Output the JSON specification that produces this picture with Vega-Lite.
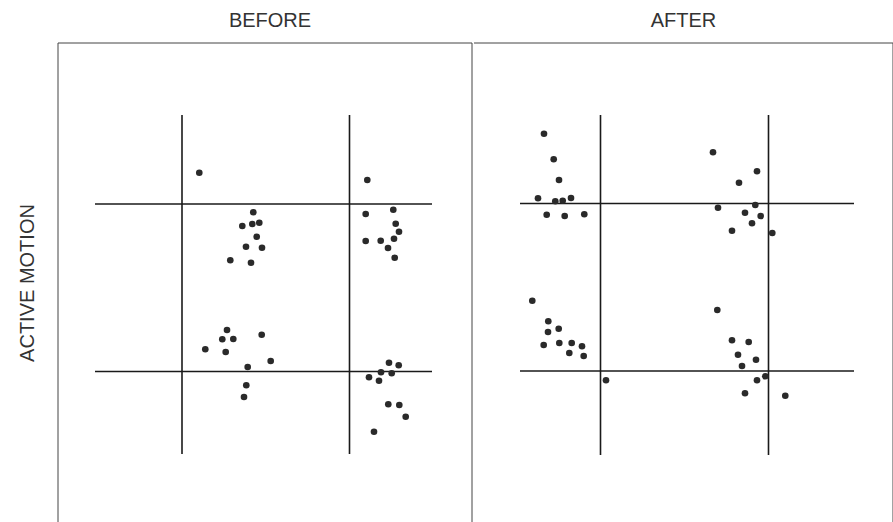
{
  "$schema": "https://vega.github.io/schema/vega-lite/v6.json",
  "padding": {"left": 17, "top": 10, "right": 0, "bottom": 0},
  "autosize": {"type": "pad"},
  "spacing": 0,
  "background": "white",
  "config": {"view": {"stroke": null}, "font": "Liberation Sans"},
  "datasets": {
    "borders": [
      {"panel": "BEFORE", "x": 0, "x2": 0, "y": 0, "y2": 479},
      {"panel": "BEFORE", "x": 0, "x2": 414, "y": 479, "y2": 479},
      {"panel": "BEFORE", "x": 414, "x2": 414, "y": 0, "y2": 479},
      {"panel": "AFTER", "x": 0, "x2": 419, "y": 479, "y2": 479},
      {"panel": "AFTER", "x": 419, "x2": 419, "y": 0, "y2": 479}
    ],
    "crosses": [
      {"panel": "BEFORE", "x": 124, "x2": 124, "y": 68, "y2": 407},
      {"panel": "BEFORE", "x": 291.5, "x2": 291.5, "y": 68, "y2": 407},
      {"panel": "BEFORE", "x": 37, "x2": 374, "y": 318, "y2": 318},
      {"panel": "BEFORE", "x": 37, "x2": 374, "y": 150.5, "y2": 150.5},
      {"panel": "AFTER", "x": 126.5, "x2": 126.5, "y": 67, "y2": 407},
      {"panel": "AFTER", "x": 294.5, "x2": 294.5, "y": 67, "y2": 407},
      {"panel": "AFTER", "x": 46, "x2": 380, "y": 318.5, "y2": 318.5},
      {"panel": "AFTER", "x": 46, "x2": 380, "y": 151, "y2": 151}
    ],
    "points": [
      {"panel": "BEFORE", "x": 141.3, "y": 349.3},
      {"panel": "BEFORE", "x": 309.3, "y": 342},
      {"panel": "BEFORE", "x": 195.3, "y": 309.7},
      {"panel": "BEFORE", "x": 184.3, "y": 296},
      {"panel": "BEFORE", "x": 194.3, "y": 298},
      {"panel": "BEFORE", "x": 201.3, "y": 299.3},
      {"panel": "BEFORE", "x": 198.7, "y": 285.3},
      {"panel": "BEFORE", "x": 188, "y": 275.3},
      {"panel": "BEFORE", "x": 204, "y": 274.3},
      {"panel": "BEFORE", "x": 172.3, "y": 261.7},
      {"panel": "BEFORE", "x": 193, "y": 259.3},
      {"panel": "BEFORE", "x": 307.7, "y": 308},
      {"panel": "BEFORE", "x": 335.3, "y": 312.3},
      {"panel": "BEFORE", "x": 337.7, "y": 298.3},
      {"panel": "BEFORE", "x": 341, "y": 290.3},
      {"panel": "BEFORE", "x": 336, "y": 283.3},
      {"panel": "BEFORE", "x": 307.7, "y": 281},
      {"panel": "BEFORE", "x": 322.7, "y": 281.3},
      {"panel": "BEFORE", "x": 330, "y": 274},
      {"panel": "BEFORE", "x": 336.7, "y": 264.3},
      {"panel": "BEFORE", "x": 169, "y": 192},
      {"panel": "BEFORE", "x": 164.3, "y": 182.7},
      {"panel": "BEFORE", "x": 175.3, "y": 183},
      {"panel": "BEFORE", "x": 147.3, "y": 172.7},
      {"panel": "BEFORE", "x": 167.7, "y": 170},
      {"panel": "BEFORE", "x": 203.7, "y": 187.3},
      {"panel": "BEFORE", "x": 212.7, "y": 161},
      {"panel": "BEFORE", "x": 189.7, "y": 155},
      {"panel": "BEFORE", "x": 188.3, "y": 136.7},
      {"panel": "BEFORE", "x": 186, "y": 125},
      {"panel": "BEFORE", "x": 331, "y": 159.3},
      {"panel": "BEFORE", "x": 340.7, "y": 156.7},
      {"panel": "BEFORE", "x": 323, "y": 149.7},
      {"panel": "BEFORE", "x": 333.7, "y": 148.7},
      {"panel": "BEFORE", "x": 311, "y": 144.7},
      {"panel": "BEFORE", "x": 321, "y": 141.3},
      {"panel": "BEFORE", "x": 330.3, "y": 117.7},
      {"panel": "BEFORE", "x": 341.3, "y": 117},
      {"panel": "BEFORE", "x": 347.7, "y": 105.3},
      {"panel": "BEFORE", "x": 316, "y": 90.3},
      {"panel": "AFTER", "x": 70, "y": 388.3},
      {"panel": "AFTER", "x": 79.7, "y": 362.7},
      {"panel": "AFTER", "x": 85, "y": 342},
      {"panel": "AFTER", "x": 64, "y": 323.7},
      {"panel": "AFTER", "x": 81.3, "y": 320.7},
      {"panel": "AFTER", "x": 88.7, "y": 321.3},
      {"panel": "AFTER", "x": 97, "y": 324},
      {"panel": "AFTER", "x": 72.7, "y": 307.3},
      {"panel": "AFTER", "x": 90.7, "y": 306},
      {"panel": "AFTER", "x": 110.3, "y": 307.7},
      {"panel": "AFTER", "x": 239, "y": 369.7},
      {"panel": "AFTER", "x": 283, "y": 350.7},
      {"panel": "AFTER", "x": 265, "y": 339.3},
      {"panel": "AFTER", "x": 244, "y": 314.3},
      {"panel": "AFTER", "x": 281.3, "y": 317},
      {"panel": "AFTER", "x": 271, "y": 309.3},
      {"panel": "AFTER", "x": 286.7, "y": 306},
      {"panel": "AFTER", "x": 278, "y": 298.7},
      {"panel": "AFTER", "x": 258, "y": 291.3},
      {"panel": "AFTER", "x": 298.3, "y": 289},
      {"panel": "AFTER", "x": 58.3, "y": 221.3},
      {"panel": "AFTER", "x": 74.3, "y": 200.7},
      {"panel": "AFTER", "x": 74, "y": 190},
      {"panel": "AFTER", "x": 84.7, "y": 193.3},
      {"panel": "AFTER", "x": 69.7, "y": 177},
      {"panel": "AFTER", "x": 85.3, "y": 179},
      {"panel": "AFTER", "x": 97.7, "y": 179},
      {"panel": "AFTER", "x": 108, "y": 175.7},
      {"panel": "AFTER", "x": 95.3, "y": 169},
      {"panel": "AFTER", "x": 109.7, "y": 166},
      {"panel": "AFTER", "x": 132, "y": 141.7},
      {"panel": "AFTER", "x": 243.3, "y": 212},
      {"panel": "AFTER", "x": 258, "y": 181.7},
      {"panel": "AFTER", "x": 274.7, "y": 180},
      {"panel": "AFTER", "x": 264, "y": 167.3},
      {"panel": "AFTER", "x": 282, "y": 162.3},
      {"panel": "AFTER", "x": 268, "y": 156},
      {"panel": "AFTER", "x": 291.3, "y": 145.7},
      {"panel": "AFTER", "x": 283, "y": 141.7},
      {"panel": "AFTER", "x": 271, "y": 128.7},
      {"panel": "AFTER", "x": 311.3, "y": 126.3}
    ]
  },
  "hconcat": [
    {
      "width": 414,
      "height": 479,
      "title": {"text": "BEFORE", "anchor": "middle", "frame": "group", "fontSize": 20, "fontWeight": "normal", "font": "Liberation Sans", "color": "#333333", "offset": 12, "dx": 5},
      "encoding": {
        "x": {"field": "x", "type": "quantitative", "scale": {"domain": [0, 414], "nice": false, "zero": false}, "axis": null},
        "y": {"field": "y", "type": "quantitative", "scale": {"domain": [0, 479], "nice": false, "zero": false},
              "axis": {"title": "ACTIVE MOTION", "labels": false, "ticks": false, "domain": false, "grid": false, "titleFontSize": 20, "titleFontWeight": "normal", "titleFont": "Liberation Sans", "titleColor": "#333333", "titlePadding": 21}}
      },
      "layer": [
        {"data": {"name": "borders"}, "transform": [{"filter": "datum.panel == 'BEFORE'"}], "mark": {"type": "rule", "stroke": "#444444", "strokeWidth": 1}, "encoding": {"x2": {"field": "x2"}, "y2": {"field": "y2"}}},
        {"data": {"name": "crosses"}, "transform": [{"filter": "datum.panel == 'BEFORE'"}], "mark": {"type": "rule", "stroke": "#1a1a1a", "strokeWidth": 1.6}, "encoding": {"x2": {"field": "x2"}, "y2": {"field": "y2"}}},
        {"data": {"name": "points"}, "transform": [{"filter": "datum.panel == 'BEFORE'"}], "mark": {"type": "circle", "size": 44, "color": "#2a2a2a", "opacity": 1}}
      ]
    },
    {
      "width": 419,
      "height": 479,
      "title": {"text": "AFTER", "anchor": "middle", "frame": "group", "fontSize": 20, "fontWeight": "normal", "font": "Liberation Sans", "color": "#333333", "offset": 12},
      "encoding": {
        "x": {"field": "x", "type": "quantitative", "scale": {"domain": [0, 419], "nice": false, "zero": false}, "axis": null},
        "y": {"field": "y", "type": "quantitative", "scale": {"domain": [0, 479], "nice": false, "zero": false}, "axis": null}
      },
      "layer": [
        {"data": {"name": "borders"}, "transform": [{"filter": "datum.panel == 'AFTER'"}], "mark": {"type": "rule", "stroke": "#444444", "strokeWidth": 1}, "encoding": {"x2": {"field": "x2"}, "y2": {"field": "y2"}}},
        {"data": {"name": "crosses"}, "transform": [{"filter": "datum.panel == 'AFTER'"}], "mark": {"type": "rule", "stroke": "#1a1a1a", "strokeWidth": 1.6}, "encoding": {"x2": {"field": "x2"}, "y2": {"field": "y2"}}},
        {"data": {"name": "points"}, "transform": [{"filter": "datum.panel == 'AFTER'"}], "mark": {"type": "circle", "size": 44, "color": "#2a2a2a", "opacity": 1}}
      ]
    }
  ]
}
